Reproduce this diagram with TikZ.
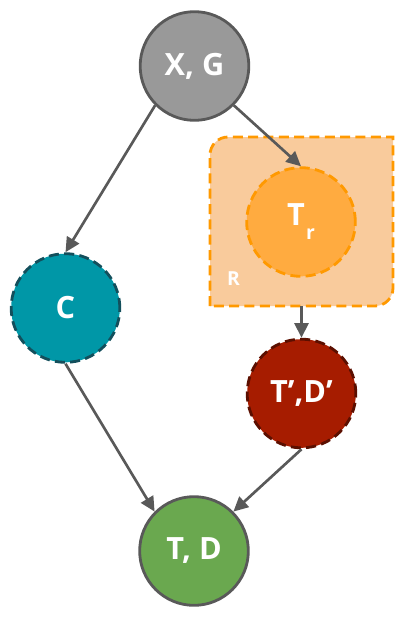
\documentclass[tikz,border=0pt]{standalone}
\usepackage{fontspec}
\setmainfont{Open Sans}
\usetikzlibrary{arrows.meta}
\definecolor{xgfill}{HTML}{999999}
\definecolor{edgegray}{HTML}{595959}
\definecolor{cfill}{HTML}{0097A7}
\definecolor{cborder}{HTML}{134F5C}
\definecolor{trfill}{HTML}{FFAB40}
\definecolor{orangeb}{HTML}{FF9900}
\definecolor{rfill}{HTML}{F9CB9C}
\definecolor{tpfill}{HTML}{A61C00}
\definecolor{tpborder}{HTML}{5B0F00}
\definecolor{tdfill}{HTML}{6AA84F}
\begin{document}
\begin{tikzpicture}[x=0.75pt,y=-0.75pt,
  circ/.style={circle, minimum size=81.5pt, inner sep=0pt, line width=2.1pt,
    text=white, font=\fontsize{23}{23}\selectfont\bfseries},
  dashb/.style={dash pattern=on 7.5pt off 4pt},
  arr/.style={draw=edgegray, line width=2pt, -{Triangle[length=11pt,width=10.5pt]}, fill=none},
  lbl/.style={text=white, font=\fontsize{14.5}{14.5}\selectfont\bfseries, inner sep=0pt}]
\useasboundingbox (0,0) rectangle (405,618);
% region R
\node[minimum width=137pt, minimum height=126.75pt, inner sep=0pt] (Rbox) at (301.5,221.5) {};
\draw[fill=rfill, draw=orangeb, line width=2.1pt, dashb]
  (210,306) -- (210,155) .. controls (210,145.06) and (218.06,137) .. (228,137)
  -- (393,137) -- (393,288) .. controls (393,297.94) and (384.94,306) .. (375,306) -- cycle;
\node[lbl] (Rl) at (233.5,279) {R};
% nodes
\node[circ, fill=xgfill, draw=edgegray] (XG) at (194.5,66) {X, G};
\node[circ, fill=cfill, draw=cborder, dashb] (C) at (65.5,308) {C};
\node[circ, fill=trfill, draw=orangeb, dashb] (Tr) at (301,222) {T\kern1pt\raisebox{-10.5pt}{\fontsize{14.5}{14.5}\selectfont r}};
\node[circ, fill=tpfill, draw=tpborder, dashb] (Tp) at (301.5,393.5) {T’,D’};
\node[circ, fill=tdfill, draw=edgegray] (TD) at (194,551) {T, D};
% connectors
\draw[arr] (XG.south west) -- (C.north);
\draw[arr] (XG.south east) -- (Tr.north);
\draw[arr] (Rbox.south) -- (Tp.north);
\draw[arr] (C.south) -- (TD.north west);
\draw[arr] (Tp.south) -- (TD.north east);
\end{tikzpicture}
\end{document}
